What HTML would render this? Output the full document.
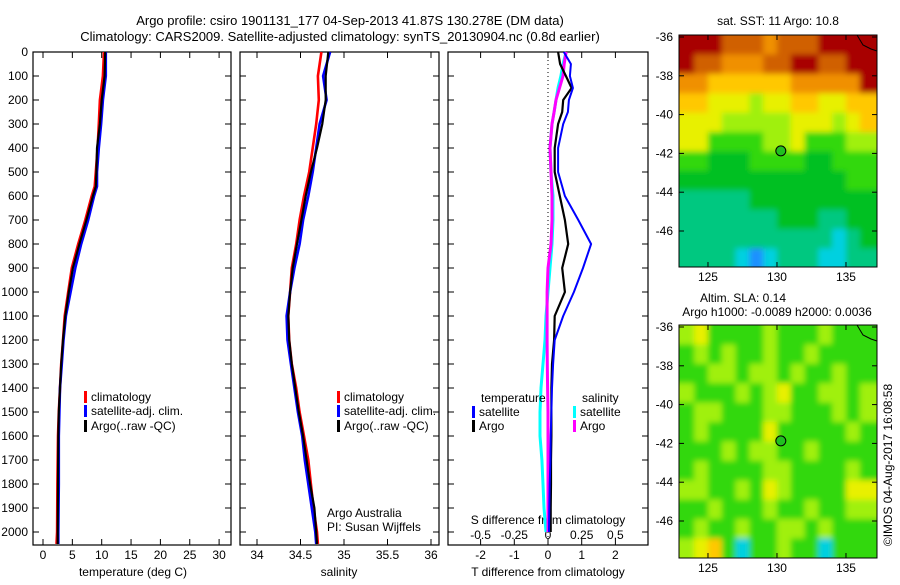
<!DOCTYPE html>
<html><head><meta charset="utf-8"><style>
body{margin:0;background:#fff;}
svg text{font-family:"Liberation Sans",sans-serif;font-size:12px;fill:#000;}
</style></head><body>
<svg id="c" width="900" height="580" xmlns="http://www.w3.org/2000/svg">
<defs>
<filter id="blur" x="-10%" y="-10%" width="120%" height="120%"><feGaussianBlur stdDeviation="3"/></filter>
<clipPath id="clipTop"><rect x="679" y="35" width="198" height="232"/></clipPath>
<clipPath id="clipBot"><rect x="679" y="325" width="198" height="233"/></clipPath>
</defs>
<text x="350" y="25" text-anchor="middle" style="font-size:13px">Argo profile: csiro 1901131_177 04-Sep-2013 41.87S 130.278E (DM data)</text>
<text x="340" y="41" text-anchor="middle" style="font-size:13px">Climatology: CARS2009. Satellite-adjusted climatology: synTS_20130904.nc (0.8d earlier)</text>
<g id="g"></g>
</svg>
<script>
// ---- data ----
const depths = [0,100,200,300,400,500,560,600,700,800,900,1000,1100,1200,1300,1400,1500,1600,1800,2000,2050];
const tempClim = [10.4,10.2,9.7,9.5,9.3,9.0,8.8,8.3,7.2,6.0,4.9,4.3,3.7,3.4,3.1,2.9,2.7,2.55,2.45,2.4,2.3];
const tempSat  = [10.7,10.7,10.2,9.9,9.5,9.2,9.2,8.7,7.7,6.5,5.5,4.7,3.9,3.5,3.2,2.9,2.8,2.7,2.7,2.6,2.6];
const tempArgo = [10.6,10.5,10.0,9.7,9.2,9.1,9.0,8.5,7.4,6.2,5.1,4.4,3.8,3.4,3.1,2.9,2.7,2.6,2.55,2.5,2.5];
const sDepths = [0,100,200,300,400,500,600,700,800,900,1000,1100,1200,1300,1400,1500,1600,1700,1800,1900,2000,2050];
const salClim = [34.74,34.70,34.71,34.68,34.64,34.60,34.54,34.49,34.45,34.40,34.38,34.36,34.37,34.40,34.45,34.49,34.54,34.59,34.62,34.65,34.69,34.70];
const salSat  = [34.84,34.76,34.80,34.72,34.68,34.64,34.59,34.53,34.49,34.43,34.38,34.34,34.35,34.39,34.43,34.47,34.52,34.55,34.59,34.63,34.67,34.68];
const salArgo = [34.82,34.79,34.79,34.75,34.69,34.62,34.56,34.51,34.46,34.41,34.38,34.36,34.37,34.40,34.44,34.48,34.53,34.57,34.61,34.66,34.68,34.69];
const dDepths = [0,50,100,150,200,250,300,400,500,600,700,800,900,1000,1100,1200,1300,1400,1500,1600,1700,1800,1900,2000];
const dTsat  = [0.47,0.68,0.65,0.74,0.62,0.59,0.45,0.30,0.30,0.50,0.90,1.28,1.04,0.77,0.45,0.20,0.15,0.12,0.10,0.08,0.07,0.05,0.04,0.03];
const dTargo = [0.30,0.36,0.53,0.70,0.45,0.42,0.30,0.20,0.20,0.35,0.50,0.60,0.42,0.50,0.20,0.18,0.12,0.10,0.10,0.10,0.09,0.09,0.08,0.08];
const dSsat  = [0.134,0.111,0.096,0.074,0.059,0.045,0.030,0.015,0.022,0.037,0.037,0.030,0.015,0.000,-0.015,-0.022,-0.037,-0.052,-0.059,-0.059,-0.045,-0.037,-0.030,-0.015];
const dSargo = [0.134,0.120,0.111,0.085,0.059,0.045,0.030,0.015,0.022,0.030,0.030,0.022,0.000,-0.007,-0.007,-0.007,-0.005,-0.003,0.000,0.000,0.000,0.000,0.000,0.000];
const tTicks = [0,5,10,15,20,25,30];
const sTicks = [34,34.5,35,35.5,36];
const sLabels = ["34","34.5","35","35.5","36"];
const dTTicks = [-2,-1,0,1,2];
const dSTicks = [-0.5,-0.25,0,0.25,0.5];
const dSLabels = ["-0.5","-0.25","0","0.25","0.5"];
const depthTicks = [0,100,200,300,400,500,600,700,800,900,1000,1100,1200,1300,1400,1500,1600,1700,1800,1900,2000];
const latTicks = [-36,-38,-40,-42,-44,-46];
const lonTicks = [125,130,135];
const sstGrid = [
[10,10,10,9,9,9,8,9,9,9,10,10,10,10],
[10,9,9,8,8,8,9,9,10,10,9,9,10,10],
[8,8,7,7,7,7,7,7,8,8,8,8,8,10],
[7,7,6,6,6,5,6,6,7,7,6,6,7,7],
[6,6,6,5,5,5,5,5,6,6,6,5,6,7],
[6,6,4,4,4,4,5,5,6,4,4,4,5,5],
[4,4,3,3,3,4,4,4,4,3,3,4,4,4],
[3,3,3,3,3,3,3,3,3,3,3,3,4,4],
[2,2,2,2,2,3,3,3,3,3,3,3,3,3],
[2,2,2,2,2,2,2,3,3,3,2,2,3,3],
[2,2,2,2,2,2,2,2,2,2,2,1,2,3],
[2,2,2,2,1,0,1,2,2,2,1,1,2,2]];
const slaGrid = [
[5,6,4,4,4,4,5,4,4,4,5,4,4,4],
[4,5,4,5,4,4,5,4,4,5,4,4,4,4],
[4,4,5,5,4,5,5,4,5,4,4,5,4,4],
[5,4,4,4,5,4,5,6,4,4,5,5,4,5],
[4,5,5,4,4,4,5,5,4,4,4,5,4,5],
[4,5,4,4,4,4,6,4,4,4,4,4,5,4],
[4,4,4,5,4,5,5,4,4,5,4,4,4,4],
[4,5,4,4,4,4,5,5,4,4,4,4,5,4],
[5,5,4,4,5,4,6,5,4,4,4,4,6,6],
[4,4,5,4,4,4,5,4,4,5,4,4,5,5],
[4,5,4,4,5,4,4,5,5,4,5,4,4,4],
[5,6,7,4,1,4,4,5,4,4,1,4,4,4]];
const cmap = ["#1a90ff","#00d0e0","#00c880","#00c020","#30d810","#a0f010","#e8f000","#ffc800","#f09000","#d06000","#a80000"];

const NS="http://www.w3.org/2000/svg";
const g=document.getElementById('g');
function el(tag,attrs,parent){const e=document.createElementNS(NS,tag);for(const k in attrs)e.setAttribute(k,attrs[k]);(parent||g).appendChild(e);return e;}
function txt(x,y,s,anchor,parent){const t=el('text',{x:x,y:y,'text-anchor':anchor||'middle'},parent);t.textContent=s;return t;}

const yTop=52,yBot=545;
const yD=d=>yTop+0.24*d;
const xT=t=>43+5.87*t;
const xS=s=>257+87*(s-34);
const xDT=v=>548+33.7*v;
const xDS=v=>548+134.8*v;

function panel(x0,x1,name){
  const r=el('rect',{x:x0,y:yTop,width:x1-x0,height:yBot-yTop,fill:'none',stroke:'#000','stroke-width':1.2});
  
  
  depthTicks.forEach(d=>{
    el('line',{x1:x0,x2:x0+6,y1:yD(d),y2:yD(d),stroke:'#000'});
    el('line',{x1:x1-6,x2:x1,y1:yD(d),y2:yD(d),stroke:'#000'});
  });
}
function xticks(vals,f){vals.forEach(v=>{const x=f(v);el('line',{x1:x,x2:x,y1:yTop,y2:yTop+6,stroke:'#000'});el('line',{x1:x,x2:x,y1:yBot-6,y2:yBot,stroke:'#000'});});}
function line(xs,ds,fx,color,name,w){
  const pts=xs.map((v,i)=>fx(v).toFixed(1)+','+yD(ds[i]).toFixed(1)).join(' ');
  const p=el('polyline',{points:pts,fill:'none',stroke:color,'stroke-width':w||2.6,'stroke-linejoin':'round'});
  
  
}
function legendEntry(x,y,color,label,name){
  const gg=el('g',{});
  
  
  el('rect',{x:x,y:y-10,width:3,height:12,fill:color},gg);
  txt(x+7,y,label,'start',gg);
}

depthTicks.forEach(d=>{txt(28,yD(d)+4,String(d),'end');});

// panel 1
panel(33,231,'temperature-panel');
xticks(tTicks,xT);
tTicks.forEach(v=>txt(xT(v),559,String(v)));
txt(133,576,'temperature (deg C)');
line(tempClim,depths,xT,'#ff0000','temp-climatology-line');
line(tempSat,depths,xT,'#0000ff','temp-satellite-line');
line(tempArgo,depths,xT,'#000000','temp-argo-line',2.2);
legendEntry(84,401,'#ff0000','climatology','legend-climatology');
legendEntry(84,415,'#0000ff','satellite-adj. clim.','legend-satellite');
legendEntry(84,430,'#000000','Argo(..raw -QC)','legend-argo');

// panel 2
panel(240,439,'salinity-panel');
xticks(sTicks,xS);
sTicks.forEach((v,i)=>txt(xS(v),559,sLabels[i]));
txt(339,576,'salinity');
line(salClim,sDepths,xS,'#ff0000','sal-climatology-line');
line(salSat,sDepths,xS,'#0000ff','sal-satellite-line');
line(salArgo,sDepths,xS,'#000000','sal-argo-line',2.2);
legendEntry(337,401,'#ff0000','climatology','legend-climatology-2');
legendEntry(337,415,'#0000ff','satellite-adj. clim.','legend-satellite-2');
legendEntry(337,430,'#000000','Argo(..raw -QC)','legend-argo-2');
txt(327,517,'Argo Australia','start');
txt(327,531,'PI: Susan Wijffels','start');

// panel 3
panel(448,648,'difference-panel');
xticks(dTTicks,xDT);
el('line',{x1:548,x2:548,y1:yTop,y2:yBot,stroke:'#000','stroke-dasharray':'1,3'});
dTTicks.forEach(v=>txt(xDT(v),559,String(v)));
txt(548,576,'T difference from climatology');
txt(548,524,'S difference from climatology');
dSTicks.forEach((v,i)=>txt(xDS(v),539,dSLabels[i]));
line(dSsat,dDepths,xDS,'#00ffff','sdiff-satellite-line',3);
line(dSargo,dDepths,xDS,'#ff00ff','sdiff-argo-line',3);
line(dTargo,dDepths,xDT,'#000000','tdiff-argo-line',2.2);
line(dTsat,dDepths,xDT,'#0000ff','tdiff-satellite-line',2);
txt(481,402,'temperature','start');
txt(582,402,'salinity','start');
legendEntry(472,416,'#0000ff','satellite','legend-tdiff-satellite');
legendEntry(472,430,'#000000','Argo','legend-tdiff-argo');
legendEntry(573,416,'#00ffff','satellite','legend-sdiff-satellite');
legendEntry(573,430,'#ff00ff','Argo','legend-sdiff-argo');

// maps
function map(top,bot,grid,name,clip){
  const x0=679,x1=877;
  const lonX=l=>679+(l-122.9)*13.8;
  const latY=a=>top+2+(-36-a)*19.4;
  const outer=el('g',{'clip-path':'url(#'+clip+')'});
  
  
  const gg=el('g',{filter:'url(#blur)'},outer);
  const nr=grid.length,nc=grid[0].length;
  for(let r=-1;r<=nr;r++)for(let c=-1;c<=nc;c++){
    const v=grid[Math.min(nr-1,Math.max(0,r))][Math.min(nc-1,Math.max(0,c))];
    el('rect',{x:lonX(123+c),y:latY(-36-r)-2,width:14.3,height:19.9,fill:cmap[v]},gg);
  }
  el('rect',{x:x0,y:top,width:x1-x0,height:bot-top,fill:'none',stroke:'#000','stroke-width':1});
  latTicks.forEach(a=>{const y=latY(a);el('line',{x1:x0,x2:x0+5,y1:y,y2:y,stroke:'#000'});el('line',{x1:x1-5,x2:x1,y1:y,y2:y,stroke:'#000'});txt(673,y+4,String(a),'end');});
  lonTicks.forEach(l=>{const x=lonX(l);el('line',{x1:x,x2:x,y1:top,y2:top+5,stroke:'#000'});el('line',{x1:x,x2:x,y1:bot-5,y2:bot,stroke:'#000'});txt(x,bot+14,String(l));});
  const lx=lonX(130.278),ly=latY(-41.87);
  const m=el('circle',{cx:lx,cy:ly,r:5,fill:'#20c020',stroke:'#000'});
  
  
  el('path',{d:`M${x1-20} ${top} L${x1-14} ${top+10} L${x1-6} ${top+14} L${x1} ${top+16}`,fill:'none',stroke:'#000'});
}
map(35,267,sstGrid,'sst-map','clipTop');
txt(778,25,'sat. SST: 11 Argo: 10.8');
map(325,558,slaGrid,'sla-map','clipBot');
txt(743,302,'Altim. SLA: 0.14');
txt(777,316,'Argo h1000: -0.0089 h2000: 0.0036');
const cr=txt(0,0,'©IMOS 04-Aug-2017 16:08:58');
cr.setAttribute('transform','translate(892,465) rotate(-90)');


</script>
</body></html>
